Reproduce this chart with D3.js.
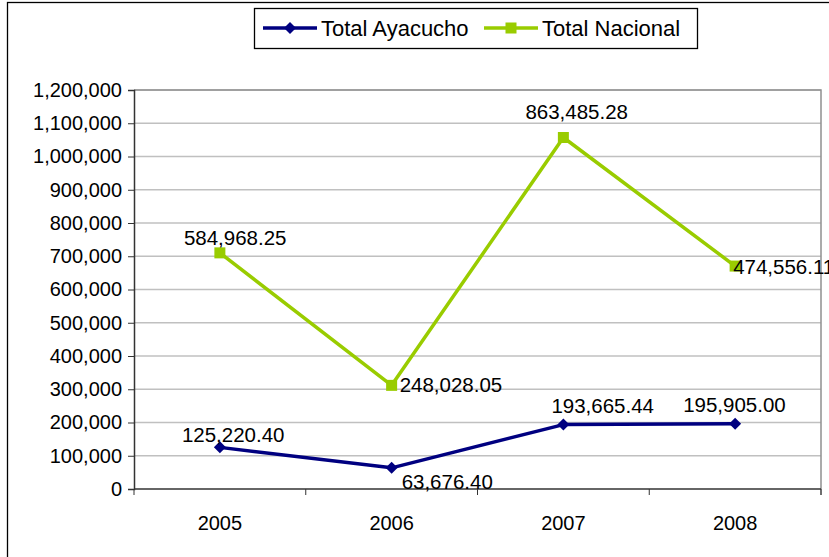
<!DOCTYPE html>
<html><head><meta charset="utf-8">
<script src="https://cdn.jsdelivr.net/npm/d3@7/dist/d3.min.js"></script>
<style>
body{margin:0;background:#fff;}
svg{display:block;font-family:"Liberation Sans",Arial,sans-serif;}
</style></head>
<body>
<svg id="c" width="829" height="557"></svg>
<script>
const years = ["2005","2006","2007","2008"];
const ayacucho = [125220.40, 63676.40, 193665.44, 195905.00];
const nacional = [584968.25, 248028.05, 863485.28, 474556.11];
const seriesNames = ["Total Ayacucho","Total Nacional"];
const yTicks = [0,100000,200000,300000,400000,500000,600000,700000,800000,900000,1000000,1100000,1200000];
const colors = ["#000080","#99CC00"];
// label placement (pixels, style only)
const labelOffsetsAya = [[-38,-5],[10,21],[-12,-12],[-52,-12]];
const labelOffsetsNac = [[-36,-8],[8,7],[-38,-18],[-2,8]];

const svg = d3.select("#c");
const L=134,R=821,T=90,B=489;
const FS=20;
const x = d3.scaleBand().domain(years).range([L,R]);
const y = d3.scaleLinear().domain([0,1200000]).range([B,T]);
const fmt = d3.format(",.2f");

// outer frame
svg.append("rect").attr("x",7.5).attr("y",2.5).attr("width",900).attr("height",600)
  .attr("fill","none").attr("stroke","#000").attr("stroke-width",1.3);

// gridlines
svg.append("g").selectAll("line").data(yTicks.filter(d=>d>0)).join("line")
  .attr("x1",L).attr("x2",R).attr("y1",d=>y(d)).attr("y2",d=>y(d))
  .attr("stroke","#C0C0C0").attr("stroke-width",1.3);
// plot border (gray)
svg.append("path").attr("d",`M${L},${T}H${R}V${B+6}`).attr("fill","none")
  .attr("stroke","#909090").attr("stroke-width",1.5);

// y axis
const ya = svg.append("g").attr("transform",`translate(${L},0)`)
  .call(d3.axisLeft(y).tickValues(yTicks).tickFormat(d3.format(",")).tickSize(6).tickPadding(6));
ya.select(".domain").attr("stroke","#333").attr("stroke-width",1.5);
ya.selectAll(".tick line").attr("stroke","#333").attr("stroke-width",1);
ya.selectAll("text").attr("font-size",FS).attr("fill","#000").attr("font-family","Liberation Sans, Arial");

// x axis
const xa = svg.append("g").attr("transform",`translate(0,${B})`)
  .call(d3.axisBottom(x).tickSize(0).tickPadding(27));
xa.select(".domain").remove();
xa.selectAll("text").attr("font-size",FS).attr("fill","#000").attr("font-family","Liberation Sans, Arial");
svg.append("line").attr("x1",L).attr("x2",R).attr("y1",B).attr("y2",B).attr("stroke","#333").attr("stroke-width",1.5);
svg.append("g").selectAll("line").data(d3.range(years.length+1)).join("line")
  .attr("x1",i=>L+i*x.step()).attr("x2",i=>L+i*x.step()).attr("y1",B).attr("y2",B+6)
  .attr("stroke","#333").attr("stroke-width",1);

// stacked data
const table = years.map((yr,i)=>({year:yr,"Total Ayacucho":ayacucho[i],"Total Nacional":nacional[i]}));
const stack = d3.stack().keys(seriesNames)(table);
const cx = d=>x(d.data.year)+x.bandwidth()/2;
const line = d3.line().x(cx).y(d=>y(d[1]));

stack.forEach((s,k)=>{
  svg.append("path").datum(s).attr("d",line).attr("fill","none")
    .attr("stroke",colors[k]).attr("stroke-width",3.5).attr("stroke-linejoin","round");
});
// markers
svg.append("g").selectAll("path").data(stack[0]).join("path")
  .attr("transform",d=>`translate(${cx(d)},${y(d[1])})`)
  .attr("d","M0,-6L6,0L0,6L-6,0Z").attr("fill",colors[0]);
svg.append("g").selectAll("rect").data(stack[1]).join("rect")
  .attr("x",d=>cx(d)-5.5).attr("y",d=>y(d[1])-5.5).attr("width",11).attr("height",11).attr("fill",colors[1]);

// labels
const lab = (s,vals,offs)=>svg.append("g").selectAll("text").data(s).join("text")
  .attr("x",(d,i)=>cx(d)+offs[i][0]).attr("y",(d,i)=>y(d[1])+offs[i][1])
  .attr("font-size",20.5).attr("fill","#000").text((d,i)=>fmt(vals[i]));
lab(stack[1],nacional,labelOffsetsNac);
lab(stack[0],ayacucho,labelOffsetsAya);

// legend
const lg = svg.append("g");
lg.append("rect").attr("x",254.5).attr("y",8.5).attr("width",443).attr("height",40)
  .attr("fill","#fff").attr("stroke","#000").attr("stroke-width",1.3);
const items=[{x:263,t:seriesNames[0],c:colors[0],m:"d"},{x:484,t:seriesNames[1],c:colors[1],m:"s"}];
items.forEach(it=>{
  lg.append("line").attr("x1",it.x).attr("x2",it.x+54).attr("y1",28).attr("y2",28)
    .attr("stroke",it.c).attr("stroke-width",3.5);
  if(it.m==="d") lg.append("path").attr("transform",`translate(${it.x+27},28)`).attr("d","M0,-6L6,0L0,6L-6,0Z").attr("fill",it.c);
  else lg.append("rect").attr("x",it.x+27-5.5).attr("y",22.5).attr("width",11).attr("height",11).attr("fill",it.c);
  lg.append("text").attr("x",it.x+58).attr("y",36).attr("font-size",22).attr("fill","#000").text(it.t);
});
</script>
</body></html>
